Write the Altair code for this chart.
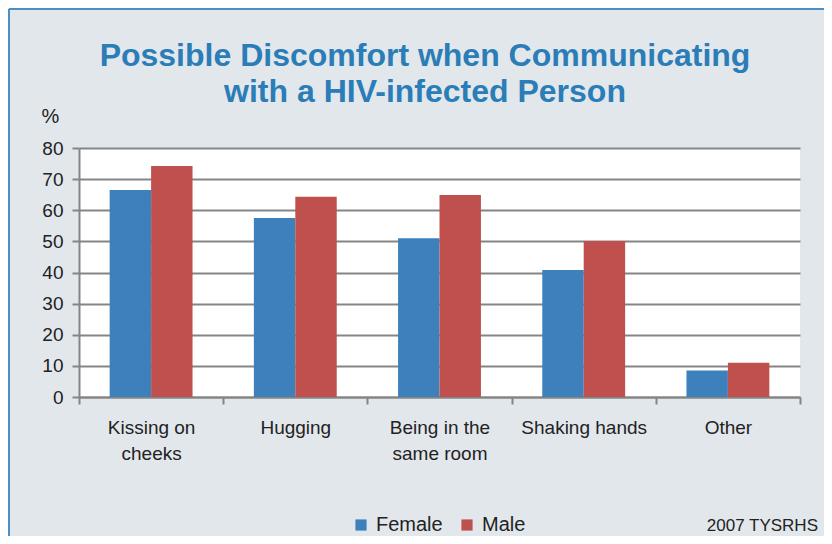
import altair as alt
import pandas as pd

categories = ["Kissing on\ncheeks", "Hugging", "Being in the\nsame room", "Shaking hands", "Other"]
female = [66.5, 57.5, 51.0, 40.8, 8.5]
male = [74.2, 64.3, 64.9, 50.1, 11.0]
series = ["Female", "Male"]
colors = ["#3D80BC", "#C0504D"]
y_ticks = [0, 10, 20, 30, 40, 50, 60, 70, 80]
title_text = "Possible Discomfort when Communicating\nwith a HIV-infected Person"
source_text = "2007 TYSRHS"

rows = []
for c, f, m in zip(categories, female, male):
    rows.append({"cat": c, "sex": "Female", "val": f})
    rows.append({"cat": c, "sex": "Male", "val": m})
df = pd.DataFrame(rows)

FONT = "Liberation Sans"
BG = "#E2E7EC"
GRID = "#858585"

bars = alt.Chart(df).mark_bar().encode(
    x=alt.X("cat:N", sort=categories,
            scale=alt.Scale(paddingInner=0, paddingOuter=0),
            axis=alt.Axis(title=None, labelAngle=0, tickBand="extent",
                          labelExpr="split(datum.label, '\\n')",
                          labelFontSize=19, labelColor="#222222", labelFont=FONT,
                          labelLineHeight=26, labelPadding=14,
                          domainColor=GRID, domainWidth=2,
                          tickColor=GRID, tickWidth=2, tickSize=7, grid=False)),
    xOffset=alt.XOffset("sex:N", sort=series,
                        scale=alt.Scale(paddingInner=0, paddingOuter=0.74)),
    y=alt.Y("val:Q",
            scale=alt.Scale(domain=[0, 80], nice=False),
            axis=alt.Axis(title="%", titleAngle=0, titleX=-29, titleY=-26,
                          titleAlign="center", titleBaseline="alphabetic",
                          titleFontSize=20, titleFontWeight="normal",
                          titleColor="#222222", titleFont=FONT,
                          values=y_ticks, labelFontSize=19, labelColor="#222222",
                          labelFont=FONT, labelPadding=9,
                          domainColor=GRID, domainWidth=2,
                          tickColor=GRID, tickWidth=2, tickSize=7,
                          gridColor=GRID, gridWidth=2)),
    color=alt.Color("sex:N", sort=series,
                    scale=alt.Scale(domain=series, range=colors),
                    legend=alt.Legend(title=None, orient="none", direction="horizontal",
                                      legendX=272, legendY=367,
                                      symbolType="square", symbolSize=125,
                                      symbolStrokeWidth=0,
                                      labelFontSize=20, labelFont=FONT,
                                      labelColor="#222222", labelOffset=5,
                                      columnPadding=14)),
)

title = alt.Chart(pd.DataFrame({"t": [title_text]})).mark_text(
    align="center", baseline="alphabetic", fontSize=32, fontWeight="bold",
    font=FONT, color="#2A7DB7", lineBreak="\n", lineHeight=36
).encode(x=alt.value(346), y=alt.value(-82), text="t:N")

note = alt.Chart(pd.DataFrame({"t": [source_text]})).mark_text(
    align="right", baseline="alphabetic", fontSize=17, font=FONT, color="#222222"
).encode(x=alt.value(739), y=alt.value(383), text="t:N")

border_left = alt.Chart(pd.DataFrame({"a": [0]})).mark_rule(
    color="#4A90C8", strokeWidth=2
).encode(x=alt.value(-70), y=alt.value(-139), y2=alt.value(400))

border_top = alt.Chart(pd.DataFrame({"a": [0]})).mark_rule(
    color="#4A90C8", strokeWidth=2
).encode(x=alt.value(-70), x2=alt.value(760), y=alt.value(-139))

chart = alt.layer(border_left, border_top, bars, title, note).properties(
    width=721, height=249,
    padding={"left": 71, "top": 140, "right": 24, "bottom": 139},
    autosize=alt.AutoSizeParams(type="none"),
    background=BG,
).configure_view(fill="white", stroke=None)

chart.save("out.html", embed_options={"renderer": "svg", "actions": False})
